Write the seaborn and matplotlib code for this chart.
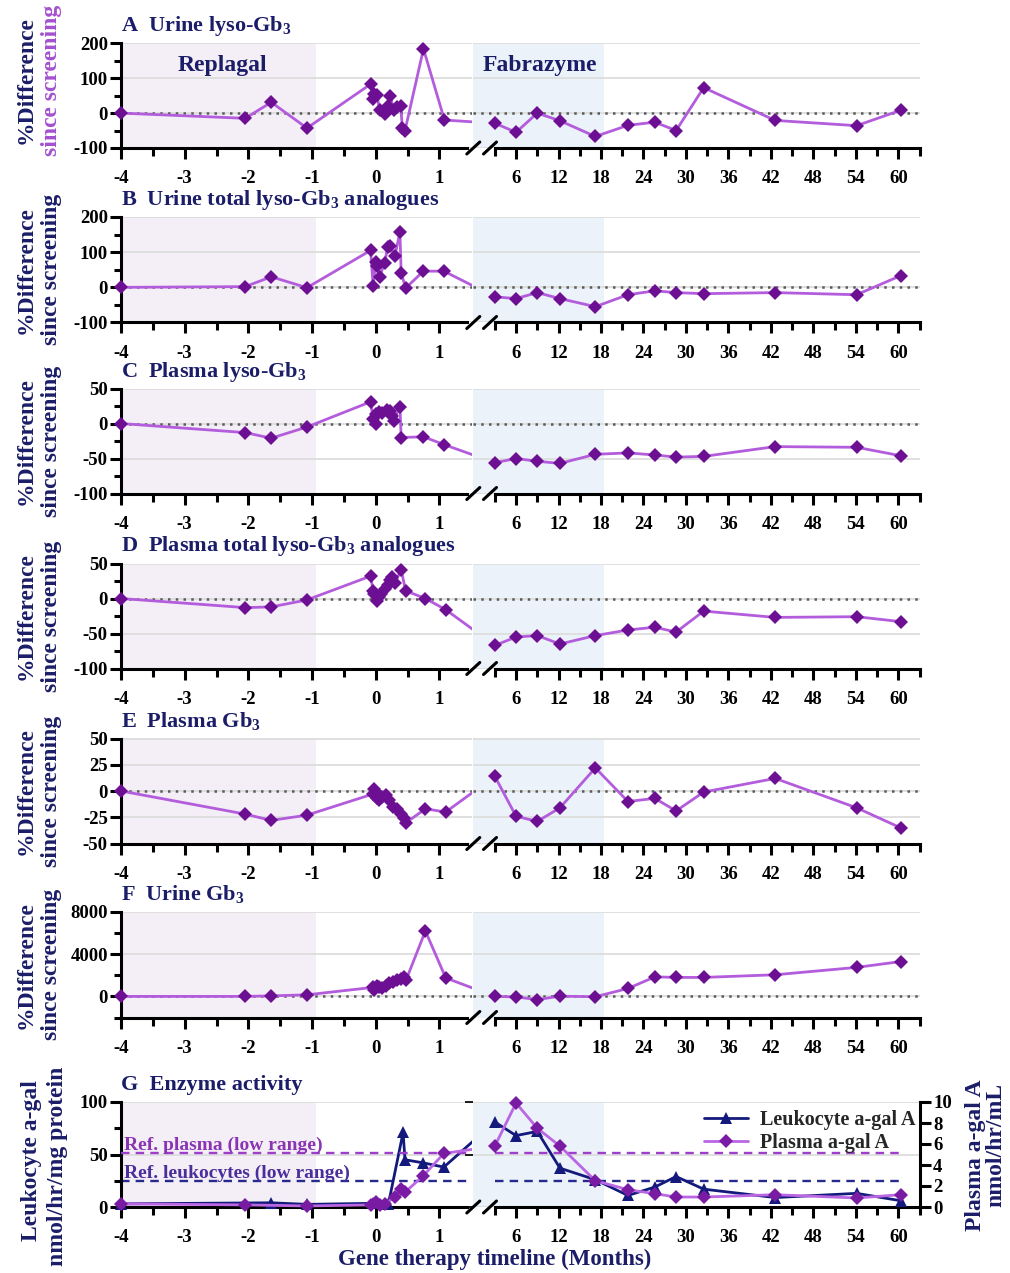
import numpy as np
import matplotlib
matplotlib.use("Agg")
import matplotlib.pyplot as plt
from matplotlib.lines import Line2D
from matplotlib.ticker import FixedLocator, MultipleLocator
import seaborn as sns

# ---------------------------------------------------------------------------
# Data: % difference since screening, months relative to gene therapy
# ---------------------------------------------------------------------------
# shared follow-up visits (months) after the axis break
late_t = [3, 6, 9, 12.2, 17.2, 21.8, 25.6, 28.6, 32.5, 42.6, 54.1, 60.3]

# A  Urine lyso-Gb3
urine_lyso_t = [-4, -2.05, -1.64, -1.08, -0.08, -0.04, -0.02, 0.02, 0.06, 0.14,
                0.19, 0.23, 0.28, 0.33, 0.39, 0.42, 0.46, 0.75, 1.08]
urine_lyso_early = [0, -15, 31, -43, 83, 40, 54, 52, 9, -2,
                    20, 50, 8, 18, 21, -43, -50, 184, -20]
urine_lyso_late = [-29, -55, 0, -22, -67, -35, -26, -50, 73, -21, -36, 8]

# B  Urine total lyso-Gb3 analogues
urine_total_t = [-4, -2.05, -1.64, -1.08, -0.08, -0.04, 0.0, 0.02, 0.06, 0.14,
                 0.19, 0.23, 0.30, 0.38, 0.40, 0.47, 0.75, 1.07]
urine_total_early = [0, 2, 30, -1, 105, 5, 73, 62, 29, 70,
                     116, 117, 88, 157, 41, -2, 46, 46]
urine_total_late = [-27, -32, -15, -32, -55, -21, -10, -15, -18, -15, -21, 33]

# C  Plasma lyso-Gb3
plasma_lyso_t = [-4, -2.05, -1.64, -1.08, -0.08, -0.04, 0.0, 0.01, 0.05, 0.10,
                 0.17, 0.22, 0.25, 0.28, 0.38, 0.40, 0.75, 1.07]
plasma_lyso_early = [0, -13, -21, -5, 31, 6, 0, 14, 16, 15,
                     19, 18, 11, 4, 24, -20, -19, -30]
plasma_lyso_late = [-56, -50, -54, -57, -44, -42, -45, -48, -47, -33, -34, -46]

# D  Plasma total lyso-Gb3 analogues
plasma_total_t = [-4, -2.05, -1.64, -1.08, -0.08, -0.04, -0.02, 0.02, 0.05, 0.09,
                  0.14, 0.19, 0.23, 0.26, 0.30, 0.40, 0.47, 0.78, 1.10]
plasma_total_early = [0, -13, -12, -2, 32, 11, 7, -3, 2, 7,
                      13, 20, 26, 31, 22, 41, 11, 0, -16]
plasma_total_late = [-67, -55, -53, -65, -53, -45, -41, -48, -18, -27, -26, -33]

# E  Plasma Gb3
plasma_gb3_t = [-4, -2.05, -1.64, -1.08, -0.05, -0.02, 0.0, 0.02, 0.05, 0.10,
                0.16, 0.21, 0.27, 0.33, 0.39, 0.44, 0.48, 0.78, 1.10]
plasma_gb3_early = [0, -22, -28, -23, -3, 2, -1, -7, -9, -6,
                    -4, -9, -15, -17, -22, -26, -30, -17, -20]
plasma_gb3_late = [14, -24, -29, -16, 22, -10, -7, -19, -1, 12, -16, -35]

# F  Urine Gb3
urine_gb3_t = [-4, -2.05, -1.64, -1.08, -0.05, -0.02, 0.02, 0.05, 0.10, 0.16,
               0.21, 0.27, 0.33, 0.39, 0.44, 0.48, 0.78, 1.10]
urine_gb3_early = [0, 0, 50, 150, 850, 600, 1000, 900, 750, 1000,
                   1250, 1400, 1550, 1650, 1850, 1600, 6200, 1750]
urine_gb3_late = [0, -50, -300, 20, -30, 750, 1850, 1800, 1800, 2050, 2750, 3300]

# G  Enzyme activity
leuko_t = [-4, -1.64, -1.08, -0.05, 0.2, 0.43, 0.46, 0.75, 1.07]
leuko_early = [3, 4, 2.5, 3.5, 3, 71, 45, 42, 38]                 # nmol/hr/mg protein
leuko_late = [81, 68, 72, 37, 26, 11, 19, 29, 17, 9, 13, 6]
plasma_agal_t = [-4, -2.05, -1.08, -0.08, 0.01, 0.06, 0.15, 0.30, 0.40, 0.46, 0.75, 1.07]
plasma_agal_early = [0.3, 0.2, 0.1, 0.2, 0.5, 0.2, 0.3, 1.0, 1.7, 1.4, 3.0, 5.1]  # nmol/hr/mL
plasma_agal_late = [5.8, 9.9, 7.5, 5.8, 2.5, 1.65, 1.27, 0.95, 0.95, 1.17, 0.86, 1.17]
ref_leuko_low = 24.8
ref_plasma_low = 5.1

# treatment periods (months)
replagal_span = (-4, -0.93)
fabrazyme_end = 18.4

# ---------------------------------------------------------------------------
# Style
# ---------------------------------------------------------------------------
sns.set_theme(style="ticks")
plt.rcParams["font.family"] = ["Liberation Serif", "DejaVu Serif"]
plt.rcParams.update({
    "font.weight": "bold",
    "axes.unicode_minus": False,
    "mathtext.fontset": "custom",
    "mathtext.rm": "Liberation Serif:bold",
    "mathtext.bf": "Liberation Serif:bold",
    "mathtext.it": "Liberation Serif:bold",
    "mathtext.default": "bf",
    "xtick.color": "black",
    "ytick.color": "black",
    "axes.edgecolor": "black",
})

NAVY = "#1b1d68"
LINE = "#b35cdc"
MARK = "#6c0f92"
SCREEN_PURPLE = "#a450d0"
LEUKO = "#141a7c"
PLASMA_LINE = "#bb66e3"
PLASMA_MARK = "#7a1ca3"
REPLAGAL = "#f4eff7"
FABRAZYME = "#ebf2fa"
GRID = "#dddddd"
ZERO = "#5a5a5a"

W, H = 1010, 1273
fig = plt.figure(figsize=(W / 100, H / 100), dpi=100)
fig.patch.set_facecolor("white")

X_LEFT = (121, 472)
X_RIGHT = (472.5, 920)
ROWS = [(43.3, 148), (217, 322.5), (388.5, 493.5), (563.5, 668.5),
        (738.5, 843.5), (912, 1017.5), (1102, 1207)]
TICK_FS = 13.5


def fx(px):
    return px / W


def fy(py):
    return 1 - py / H


def rect(xs, ys):
    return [xs[0] / W, 1 - ys[1] / H, (xs[1] - xs[0]) / W, (ys[1] - ys[0]) / H]


def setup_pair(ys, ylim, yticks, yminor=None, zero_line=True):
    axl = fig.add_axes(rect(X_LEFT, ys))
    axr = fig.add_axes(rect(X_RIGHT, ys))
    for ax in (axl, axr):
        ax.set_facecolor("none")
        ax.set_ylim(*ylim)
        ax.yaxis.set_major_locator(FixedLocator(yticks))
        ax.yaxis.grid(True, which="major", color=GRID, lw=1.3)
        ax.set_axisbelow(True)
        for s in ("top", "right"):
            ax.spines[s].set_visible(False)
        ax.spines["bottom"].set_linewidth(2.2)
        ax.tick_params(axis="x", which="major", length=8, width=2.2, pad=8,
                       labelsize=TICK_FS)
        ax.tick_params(axis="x", which="minor", length=5.5, width=2.2)
        if zero_line:
            ax.axhline(0, color=ZERO, lw=1.8, ls=(0, (1, 2.1)), zorder=1)
    axl.set_xlim(-4, 1.512)
    axl.xaxis.set_major_locator(FixedLocator([-4, -3, -2, -1, 0, 1]))
    axl.xaxis.set_minor_locator(FixedLocator([-3.5, -2.5, -1.5, -0.5, 0.5]))
    axl.spines["bottom"].set_bounds(-4, 1.43)
    axl.spines["left"].set_linewidth(2.2)
    axl.tick_params(axis="y", which="major", length=8, width=2.2, pad=1.5,
                    labelsize=TICK_FS)
    axl.tick_params(axis="y", which="minor", length=5, width=2.2)
    if yminor:
        axl.yaxis.set_minor_locator(MultipleLocator(yminor))
    axr.set_xlim(-0.15, 63.05)
    axr.xaxis.set_major_locator(FixedLocator(list(range(6, 61, 6))))
    axr.xaxis.set_minor_locator(FixedLocator(list(range(3, 64, 6))))
    axr.spines["bottom"].set_bounds(3, 63.05)
    axr.spines["left"].set_visible(False)
    axr.tick_params(axis="y", which="both", left=False, labelleft=False)
    axl.axvspan(*replagal_span, color=REPLAGAL, lw=0, zorder=0)
    axr.axvspan(-0.15, fabrazyme_end, color=FABRAZYME, lw=0, zorder=0)
    # axis-break slashes
    yb = ys[1]
    for cx in (473.3, 490.0):
        fig.add_artist(Line2D([fx(cx - 6.5), fx(cx + 6.5)], [fy(yb + 6), fy(yb - 6)],
                              color="black", lw=2.2, transform=fig.transFigure))
    return axl, axr


def bridge_x(ax_from, ax_to, x, y):
    disp = ax_from.transData.transform((x, y))
    return ax_to.transData.inverted().transform(disp)[0]


def trace(axl, axr, t, early, late, color, mcolor, marker, ms, label=None):
    kw = dict(sort=False, estimator=None, color=color, lw=2.0, legend=False)
    mk = dict(marker=marker, markersize=ms, markerfacecolor=mcolor,
              markeredgecolor=mcolor, markeredgewidth=0, clip_on=False, zorder=5)
    # connector across the axis break, clipped at the edge of the left segment
    xb = bridge_x(axr, axl, late_t[0], late[0])
    sns.lineplot(x=[t[-1], xb], y=[early[-1], late[0]], ax=axl, zorder=4, **kw)
    sns.lineplot(x=t, y=early, ax=axl, **kw, **mk)
    sns.lineplot(x=late_t, y=late, ax=axr, label=label, **kw, **mk)


def title(ys, text):
    fig.text(fx(121), fy(ys[0] - 12), text, ha="left", va="baseline",
             fontsize=16, color=NAVY)


def diff_ylabel(ys, second_color=NAVY, yc=None):
    if yc is None:
        yc = (ys[0] + ys[1]) / 2
    fig.text(fx(26), fy(yc), "%Difference", rotation=90, ha="center",
             va="center", fontsize=17, color=NAVY)
    fig.text(fx(52), fy(yc), "since screening", rotation=90, ha="center",
             va="center", fontsize=17, color=second_color)


# ---------------------------------------------------------------------------
# Panels A-F
# ---------------------------------------------------------------------------
panels = [
    ("A  Urine lyso-Gb$_3$", urine_lyso_t, urine_lyso_early, urine_lyso_late,
     (-100, 200), [-100, 0, 100, 200], 50),
    ("B  Urine total lyso-Gb$_3$ analogues", urine_total_t, urine_total_early,
     urine_total_late, (-100, 200), [-100, 0, 100, 200], 50),
    ("C  Plasma lyso-Gb$_3$", plasma_lyso_t, plasma_lyso_early, plasma_lyso_late,
     (-100, 50), [-100, -50, 0, 50], 25),
    ("D  Plasma total lyso-Gb$_3$ analogues", plasma_total_t, plasma_total_early,
     plasma_total_late, (-100, 50), [-100, -50, 0, 50], 25),
    ("E  Plasma Gb$_3$", plasma_gb3_t, plasma_gb3_early, plasma_gb3_late,
     (-50, 50), [-50, -25, 0, 25, 50], None),
    ("F  Urine Gb$_3$", urine_gb3_t, urine_gb3_early, urine_gb3_late,
     (-2000, 8000), [0, 4000, 8000], 2000),
]

for i, (ttl, t, early, late, ylim, yticks, yminor) in enumerate(panels):
    ys = ROWS[i]
    axl, axr = setup_pair(ys, ylim, yticks, yminor)
    trace(axl, axr, t, early, late, LINE, MARK, "D", 7)
    title(ys, ttl)
    if i == 0:
        diff_ylabel(ys, SCREEN_PURPLE, yc=80)
        fig.text(fx(222), fy(65), "Replagal", ha="center", va="center",
                 fontsize=17, color=NAVY)
        fig.text(fx(540), fy(65), "Fabrazyme", ha="center", va="center",
                 fontsize=17, color=NAVY)
    else:
        diff_ylabel(ys)

# ---------------------------------------------------------------------------
# Panel G: enzyme activity (leukocyte on left scale, plasma on right scale)
# ---------------------------------------------------------------------------
ys = ROWS[6]
gl, gr = setup_pair(ys, (0, 100), [0, 50, 100], 25, zero_line=False)
gl2 = gl.twinx()
gr2 = gr.twinx()
for ax, host in ((gl2, gl), (gr2, gr)):
    ax.set_position(host.get_position())
    ax.set_xlim(host.get_xlim())
    ax.set_ylim(0, 10)
    ax.set_facecolor("none")
    for s in ("top", "left", "bottom"):
        ax.spines[s].set_visible(False)
gl2.spines["right"].set_visible(False)
gl2.tick_params(axis="y", right=False, labelright=False)
gr2.yaxis.set_major_locator(FixedLocator([0, 2, 4, 6, 8, 10]))
gr2.spines["right"].set_linewidth(2.2)
gr2.tick_params(axis="y", which="major", length=8, width=2.2, pad=1.5,
                labelsize=TICK_FS)

# reference low-range lines
dash = (0, (3.6, 2.6))
gl.axhline(ref_leuko_low, color="#262a8c", lw=1.7, ls=dash, zorder=2)
gr.hlines(ref_leuko_low, late_t[0], late_t[-1], color="#262a8c", lw=1.7, ls=dash, zorder=2)
gl2.axhline(ref_plasma_low, color="#9d3fcb", lw=1.7, ls=dash, zorder=2)
gr2.hlines(ref_plasma_low, late_t[0], late_t[-1], color="#9d3fcb", lw=1.7, ls=dash, zorder=2)
gl2.annotate("Ref. plasma (low range)", xy=(-4, ref_plasma_low), xytext=(2, 2.5),
             textcoords="offset points", va="baseline", ha="left",
             fontsize=14, color="#8a34b4")
gl.annotate("Ref. leukocytes (low range)", xy=(-4, ref_leuko_low),
            xytext=(2, 2.5), textcoords="offset points", va="baseline", ha="left",
            fontsize=14, color="#4a2f9c")

trace(gl, gr, leuko_t, leuko_early, leuko_late, LEUKO, LEUKO, "^", 9,
      label="Leukocyte a-gal A")
trace(gl2, gr2, plasma_agal_t, plasma_agal_early, plasma_agal_late,
      PLASMA_LINE, PLASMA_MARK, "D", 7, label="Plasma a-gal A")

h1, l1 = gr.get_legend_handles_labels()
h2, l2 = gr2.get_legend_handles_labels()
gr2.legend(h1 + h2, l1 + l2, loc="upper left",
           bbox_to_anchor=(fx(704), fy(1110)), bbox_transform=fig.transFigure,
           frameon=False, fontsize=14.5, handlelength=2.2, handletextpad=0.6,
           borderpad=0, borderaxespad=0, labelspacing=0.15)

title(ys, "G  Enzyme activity")
fig.text(fx(32), fy(1161), "Leukocyte a-gal", rotation=90, ha="center",
         va="center", fontsize=17, color=NAVY)
fig.text(fx(57), fy(1166), "nmol/hr/mg protein", rotation=90, ha="center",
         va="center", fontsize=17, color=NAVY)
fig.text(fx(976), fy(1155), "Plasma a-gal A", rotation=90, ha="center",
         va="center", fontsize=17, color=NAVY)
fig.text(fx(996), fy(1145), "nmol/hr/mL", rotation=90, ha="center",
         va="center", fontsize=17, color=NAVY)
fig.text(fx(495), fy(1259), "Gene therapy timeline (Months)", ha="center",
         va="center", fontsize=16.5, color=NAVY)

fig.savefig("out.png", dpi=100, facecolor="white")
